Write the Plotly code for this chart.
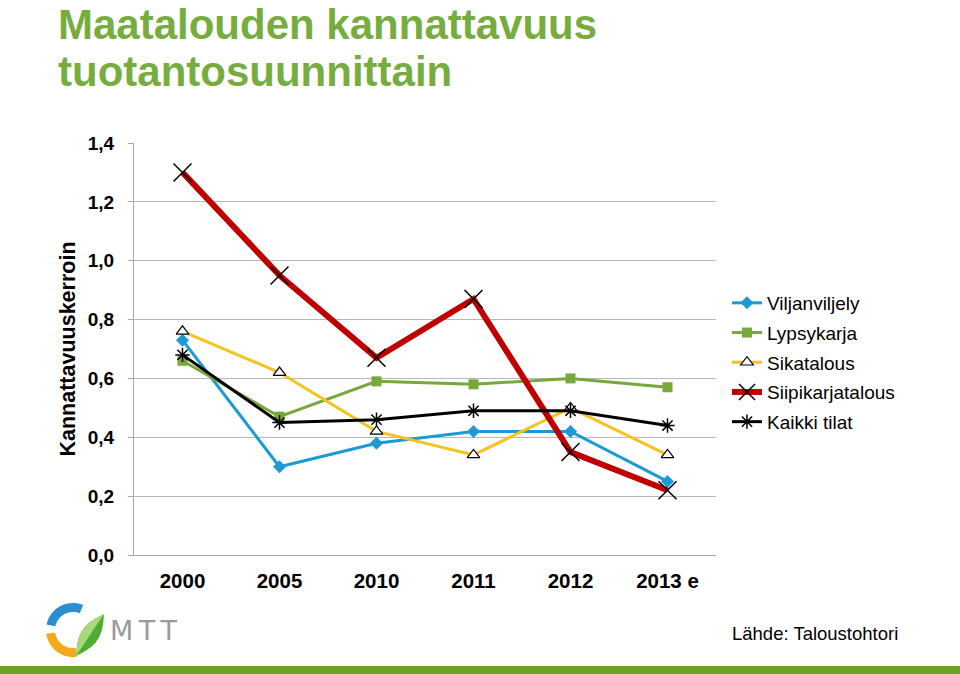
import numpy as np
import plotly.graph_objects as go

categories = ["2000", "2005", "2010", "2011", "2012", "2013 e"]
viljanviljely = [0.73, 0.30, 0.38, 0.42, 0.42, 0.25]
lypsykarja = [0.66, 0.47, 0.59, 0.58, 0.60, 0.57]
sikatalous = [0.76, 0.62, 0.42, 0.34, 0.50, 0.34]
siipikarja = [1.30, 0.95, 0.67, 0.87, 0.35, 0.22]
kaikki = [0.68, 0.45, 0.46, 0.49, 0.49, 0.44]
y_ticks = [0.0, 0.2, 0.4, 0.6, 0.8, 1.0, 1.2, 1.4]
y_ticklabels = [f"{v:.1f}".replace(".", ",") for v in y_ticks]

W, H = 960, 674
L, R, T, B = 134, 716, 143, 555

def px(x):
    return (x - L) / (R - L)

def py(y):
    return (B - y) / (B - T)

fig = go.Figure()
fig.add_trace(go.Scatter(x=categories, y=viljanviljely, name="Viljanviljely", mode="lines+markers",
                         legendgroup="a",
                         line=dict(color="#1b9ad6", width=3),
                         marker=dict(symbol="diamond", size=10, color="#1b9ad6")))
fig.add_trace(go.Scatter(x=categories, y=lypsykarja, name="Lypsykarja", mode="lines+markers",
                         legendgroup="b",
                         line=dict(color="#77a83b", width=3),
                         marker=dict(symbol="square", size=10, color="#77a83b")))
fig.add_trace(go.Scatter(x=categories, y=sikatalous, name="Sikatalous", mode="lines+markers",
                         legendgroup="c",
                         line=dict(color="#f5c31c", width=3),
                         marker=dict(symbol="triangle-up", size=11, color="white",
                                     line=dict(color="black", width=1.2))))
fig.add_trace(go.Scatter(x=categories, y=siipikarja, name="Siipikarjatalous", mode="lines+markers",
                         legendgroup="d",
                         line=dict(color="#c00000", width=6),
                         marker=dict(symbol="x-thin", size=18, color="black",
                                     line=dict(color="black", width=1.5))))
fig.add_trace(go.Scatter(x=categories, y=kaikki, name="Kaikki tilat", mode="lines+markers",
                         legendgroup="e",
                         line=dict(color="black", width=3),
                         marker=dict(symbol="asterisk", size=12, color="black",
                                     line=dict(color="black", width=1.5))))

shapes = []
# bottom green band
shapes.append(dict(type="rect", xref="paper", yref="paper", x0=px(0), x1=px(W), y0=py(676), y1=py(666),
                   fillcolor="#6aa329", line=dict(width=0), layer="above"))

# logo arcs
cx, cy = 73, 630

def poly_path(pts):
    return "M " + " L ".join(f"{px(x):.5f},{py(y):.5f}" for x, y in pts) + " Z"

def arc_path(a0, a1, r_out, r_in):
    a = np.linspace(np.radians(a0), np.radians(a1), 30)
    pts_out = [(cx + r_out * np.cos(t), cy - r_out * np.sin(t)) for t in a]
    pts_in = [(cx + r_in * np.cos(t), cy - r_in * np.sin(t)) for t in a[::-1]]
    return poly_path(pts_out + pts_in)

shapes.append(dict(type="path", xref="paper", yref="paper", path=arc_path(68, 168, 27, 18),
                   fillcolor="#2a8fd0", line=dict(width=0), layer="above"))
shapes.append(dict(type="path", xref="paper", yref="paper", path=arc_path(188, 278, 27, 18),
                   fillcolor="#f2a91c", line=dict(width=0), layer="above"))
# leaf
t = np.linspace(0, np.pi, 20)
p0 = np.array([76.0, 656.0])
p1 = np.array([104.0, 614.0])
d = p1 - p0
n = np.array([d[1], -d[0]]) / np.linalg.norm(d)
upper = [tuple(p0 + d * s + n * 9 * np.sin(np.pi * s)) for s in np.linspace(0, 1, 20)]
lower = [tuple(p0 + d * s - n * 9 * np.sin(np.pi * s)) for s in np.linspace(1, 0, 20)]
shapes.append(dict(type="path", xref="paper", yref="paper", path=poly_path(upper + lower),
                   fillcolor="#4fae32", line=dict(width=0), layer="above"))
mid = [tuple(p0 + d * s) for s in np.linspace(1, 0, 20)]
shapes.append(dict(type="path", xref="paper", yref="paper", path=poly_path(upper + mid),
                   fillcolor="#a9d77c", line=dict(width=0), layer="above"))

annotations = [
    dict(text="<b>Maatalouden kannattavuus</b>", xref="paper", yref="paper", x=px(57), y=py(0),
         xanchor="left", yanchor="top", showarrow=False, borderpad=0,
         font=dict(family="Liberation Sans, Arial", size=42, color="#77ad3e")),
    dict(text="<b>tuotantosuunnittain</b>", xref="paper", yref="paper", x=px(57), y=py(47),
         xanchor="left", yanchor="top", showarrow=False, borderpad=0,
         font=dict(family="Liberation Sans, Arial", size=42, color="#77ad3e")),
    dict(text="Lähde: Taloustohtori", xref="paper", yref="paper", x=px(730), y=py(633),
         xanchor="left", yanchor="middle", showarrow=False,
         font=dict(family="Liberation Sans, Arial", size=18.5, color="black")),
    dict(text="M\u2009T\u2009T", xref="paper", yref="paper", x=px(108), y=py(630),
         xanchor="left", yanchor="middle", showarrow=False,
         font=dict(family="DejaVu Sans, Arial", size=27, color="#9a9a9a")),
]

fig.update_layout(
    width=W, height=H,
    margin=dict(l=L, r=W - R, t=T, b=H - B, autoexpand=False),
    paper_bgcolor="white", plot_bgcolor="white",
    font=dict(family="Liberation Sans, Arial", color="black"),
    showlegend=True,
    legend=dict(x=px(727), y=py(284), xanchor="left", yanchor="top",
                font=dict(size=19, family="Liberation Sans, Arial"),
                tracegroupgap=2, itemwidth=30, bgcolor="rgba(0,0,0,0)"),
    xaxis=dict(type="category", range=[-0.5, len(categories) - 0.5],
               showgrid=False, showline=True, linecolor="#a6a6a6", linewidth=1,
               ticks="", tickfont=dict(size=20.5, family="Liberation Sans, Arial", color="black"),
               ticklabelstandoff=7, tickprefix="<b>", ticksuffix="</b>"),
    yaxis=dict(range=[0, 1.4], tickvals=y_ticks, ticktext=[f"<b>{t}</b>" for t in y_ticklabels],
               showgrid=True, gridcolor="#b8b8b8", gridwidth=1, showline=True, linecolor="#a6a6a6",
               ticks="outside", ticklen=5, tickcolor="#a6a6a6",
               tickfont=dict(size=19, family="Liberation Sans, Arial", color="black"),
               ticklabelstandoff=10, zeroline=False,
               title=dict(text="<b>Kannattavuuskerroin</b>", standoff=6,
                          font=dict(size=21.5, family="Liberation Sans, Arial", color="black"))),
    shapes=shapes,
    annotations=annotations,
)

fig.write_html("out.html", config={"displayModeBar": False},
               post_script="document.body.style.margin='0';document.body.style.overflow='hidden';")
